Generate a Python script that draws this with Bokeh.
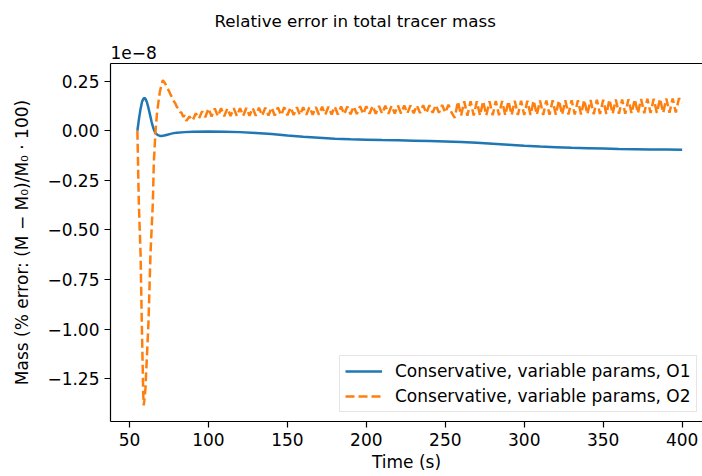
from bokeh.plotting import figure
from bokeh.models import (FixedTicker, CustomJSTickFormatter, Legend, LegendItem,
                          Title, LinearAxis, Range1d)
from bokeh.embed import file_html
from bokeh.resources import INLINE

# values are shown in units of 1e-8 (as on the chart's y axis)
x_ticks = [50, 100, 150, 200, 250, 300, 350, 400]
y_ticks = [-1.25, -1.0, -0.75, -0.5, -0.25, 0.0, 0.25]

o1_t = [55, 56, 57, 58, 59, 59.5, 60, 61, 62, 63, 64, 65, 66, 67, 68, 69, 70, 72, 74, 76, 78,
        80, 85, 90, 100, 110, 120, 130, 140, 150, 160, 170, 180, 190, 200, 210, 220, 230,
        240, 250, 260, 270, 280, 290, 300, 310, 320, 330, 340, 350, 360, 370, 380, 390, 400]
o1_v = [0.0, 0.06, 0.11, 0.148, 0.163, 0.165, 0.162, 0.145, 0.115, 0.08, 0.045, 0.015,
        -0.005, -0.016, -0.022, -0.025, -0.026, -0.024, -0.02, -0.016, -0.012,
        -0.01, -0.007, -0.005, -0.004, -0.005, -0.007, -0.011, -0.017, -0.024, -0.03,
        -0.035, -0.04, -0.043, -0.045, -0.047, -0.048, -0.05, -0.052, -0.054, -0.057,
        -0.061, -0.066, -0.071, -0.076, -0.08, -0.083, -0.086, -0.088, -0.09, -0.092,
        -0.093, -0.094, -0.095, -0.096]

o2_t = [55, 55.9, 57.0, 57.8, 58.7, 59.0, 59.4, 60.1, 62.0, 63.3, 64.8, 65.4, 66.5, 67.5,
        69.2, 71.1, 72, 73, 74, 75, 76, 77, 78, 79, 80, 81, 82, 83, 84, 85, 86, 88, 90, 92,
        94, 96, 98,
        100, 102, 104, 106, 108, 110, 112, 114, 116, 118, 120, 122, 124, 126, 128, 130,
        132, 134, 136, 138, 140, 142, 144, 146, 148, 150, 152, 154, 156, 158, 160, 162,
        164, 166, 168, 170, 172, 174, 176, 178, 180, 182, 184, 186, 188, 190, 192, 194,
        196, 198, 200, 202, 204, 206, 208, 210, 212, 214, 216, 218, 220, 222, 224, 226,
        228, 230, 232, 234, 236, 238, 240, 242, 244, 246, 248, 250, 252, 254, 256, 258,
        260, 262, 264, 266, 268, 270, 272, 274, 276, 278, 280, 282, 284, 286, 288, 290,
        292, 294, 296, 298, 300, 302, 304, 306, 308, 310, 312, 314, 316, 318, 320, 322,
        324, 326, 328, 330, 332, 334, 336, 338, 340, 342, 344, 346, 348, 350, 352, 354,
        356, 358, 360, 362, 364, 366, 368, 370, 372, 374, 376, 378, 380, 382, 384, 386,
        388, 390, 392, 394, 396, 398, 400]
o2_v = [0.0, -0.36, -0.62, -0.97, -1.33, -1.385, -1.36, -1.30, -0.97, -0.62, -0.36, -0.16,
        0.0, 0.095, 0.196, 0.255, 0.245, 0.232, 0.215, 0.2, 0.182, 0.168, 0.15, 0.138,
        0.12, 0.112, 0.095, 0.09, 0.07, 0.078, 0.05, 0.072, 0.052, 0.088, 0.062, 0.098,
        0.068,
        0.112, 0.072, 0.112, 0.073, 0.113, 0.073, 0.113, 0.074, 0.114, 0.074, 0.114, 0.075,
        0.115, 0.075, 0.115, 0.076, 0.116, 0.076, 0.116, 0.077, 0.117, 0.077, 0.117, 0.078,
        0.118, 0.078, 0.118, 0.079, 0.119, 0.079, 0.119, 0.080, 0.120, 0.080, 0.120, 0.081,
        0.121, 0.081, 0.121, 0.082, 0.122, 0.082, 0.122, 0.083, 0.123, 0.083, 0.123, 0.084,
        0.124, 0.084, 0.124, 0.085, 0.125, 0.085, 0.125, 0.086, 0.126, 0.086, 0.126, 0.087,
        0.127, 0.087, 0.127, 0.088, 0.128, 0.088, 0.128, 0.089, 0.129, 0.089, 0.129, 0.090,
        0.130, 0.090, 0.130, 0.091, 0.131, 0.091, 0.065,
        0.148, 0.076, 0.148, 0.076, 0.148, 0.077, 0.149, 0.077, 0.149, 0.077, 0.149, 0.078,
        0.150, 0.078, 0.150, 0.078, 0.150, 0.079, 0.151, 0.079, 0.151, 0.079, 0.151, 0.080,
        0.152, 0.080, 0.152, 0.080, 0.152, 0.081, 0.153, 0.081, 0.153, 0.081, 0.153, 0.082,
        0.154, 0.082, 0.154, 0.082, 0.155, 0.083, 0.155, 0.083, 0.156, 0.084, 0.156, 0.084,
        0.157, 0.085, 0.157, 0.086, 0.158, 0.086, 0.159, 0.087, 0.159, 0.088, 0.160, 0.088,
        0.161, 0.089, 0.161, 0.090, 0.162, 0.090, 0.163, 0.091, 0.163, 0.092, 0.164, 0.14]

FONT = "DejaVu Sans"
FS = "17px"
BLUE = "#1f77b4"
ORANGE = "#ff7f0e"

p = figure(width=702, height=476, output_backend="svg", toolbar_location=None,
           x_range=Range1d(37.97, 412.9), y_range=Range1d(-1.466, 0.339),
           min_border_left=110, min_border_right=0, min_border_top=62, min_border_bottom=55,
           background_fill_color="white", border_fill_color="white")
p.outline_line_color = None
p.xgrid.visible = False
p.ygrid.visible = False

for ax in (p.xaxis[0], p.yaxis[0]):
    ax.axis_line_color = "black"
    ax.axis_line_width = 1.2
    ax.major_tick_line_color = "black"
    ax.major_tick_line_width = 1.2
    ax.major_tick_out = 6
    ax.major_tick_in = 0
    ax.minor_tick_out = 0
    ax.minor_tick_in = 0
    ax.major_label_text_font = FONT
    ax.major_label_text_font_size = FS
    ax.major_label_text_color = "black"
    ax.major_label_standoff = 5
    ax.axis_label_text_font = FONT
    ax.axis_label_text_font_size = FS
    ax.axis_label_text_font_style = "normal"
    ax.axis_label_text_color = "black"

p.xaxis.ticker = FixedTicker(ticks=x_ticks)
p.yaxis.ticker = FixedTicker(ticks=y_ticks)
p.yaxis.formatter = CustomJSTickFormatter(
    code="return (tick < -1e-9 ? '\u2212' : '') + Math.abs(tick).toFixed(2);")
p.xaxis.axis_label = "Time (s)"
p.xaxis.axis_label_standoff = 3
p.yaxis.axis_label = "Mass (% error: (M \u2212 M\u2080)/M\u2080 \u00b7 100)"
p.yaxis.axis_label_standoff = 12

top_axis = LinearAxis(ticker=FixedTicker(ticks=[]), major_tick_out=0, major_tick_in=0,
                      minor_tick_out=0, minor_tick_in=0, major_label_text_font_size="0px",
                      major_label_standoff=0, axis_line_color="black", axis_line_width=1.2)
p.add_layout(top_axis, "above")
p.add_layout(Title(text="1e\u22128", align="left", text_font=FONT, text_font_size=FS,
                   text_font_style="normal", text_color="black", standoff=10), "above")
p.add_layout(Title(text="Relative error in total tracer mass", align="left", offset=104,
                   text_font=FONT, text_font_size="16.7px", text_font_style="normal",
                   text_color="black", standoff=16), "above")

r1 = p.line(o1_t, o1_v, line_color=BLUE, line_width=2.5)
r2 = p.line(o2_t, o2_v, line_color=ORANGE, line_width=2.5, line_dash="9 4")

legend = Legend(items=[LegendItem(label="Conservative, variable params, O1", renderers=[r1]),
                       LegendItem(label="Conservative, variable params, O2", renderers=[r2])],
                location=(229, 9), glyph_width=37, glyph_height=20, label_height=20,
                label_standoff=13, padding=5, spacing=5, margin=0,
                label_text_font=FONT, label_text_font_size=FS, label_text_color="black",
                border_line_color="#cccccc", border_line_width=1, background_fill_alpha=0.8)
p.add_layout(legend, "center")

open("out.html", "w").write(file_html(p, INLINE))
